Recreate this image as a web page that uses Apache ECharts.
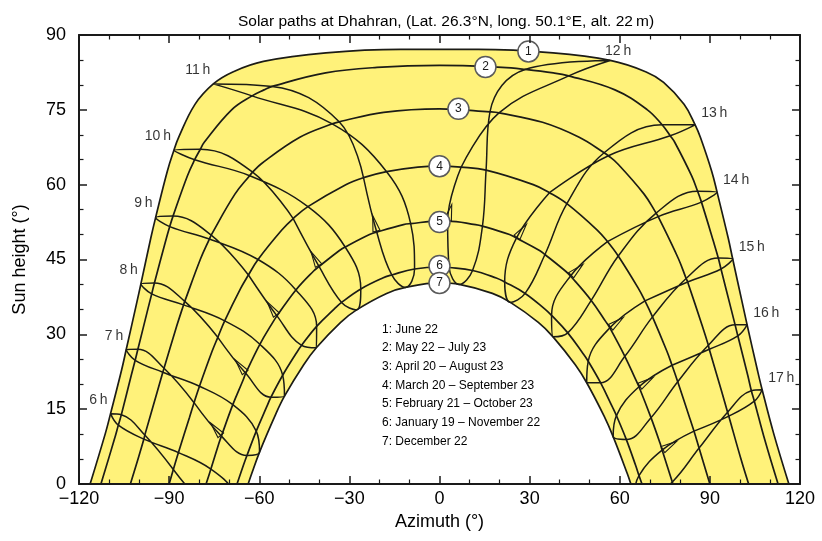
<!DOCTYPE html>
<html><head><meta charset="utf-8">
<script src="https://cdn.jsdelivr.net/npm/echarts@6/dist/echarts.min.js"></script>
<style>html,body{margin:0;padding:0;background:#fff}#c{width:822px;height:541px}</style>
</head><body><div id="c"></div>
<script>
// ---------- text ----------
const titleText = 'Solar paths at Dhahran, (Lat. 26.3°N, long. 50.1°E, alt. 22\u2009m)';
const xAxisName = 'Azimuth (°)';
const yAxisName = 'Sun height (°)';
const dateLabels = ['1: June 22','2: May 22 \u2013 July 23','3: April 20 \u2013 August 23','4: March 20 \u2013 September 23','5: February 21 \u2013 October 23','6: January 19 \u2013 November 22','7: December 22'];
const circleNumbers = ['1','2','3','4','5','6','7'];
const circlePositions = [[29.6,86.7],[15.3,83.6],[6.3,75.2],[0,63.7],[0,52.5],[0,43.7],[0,40.3]];
const hourNames = ['6\u2009h','7\u2009h','8\u2009h','9\u2009h','10\u2009h','11\u2009h','12\u2009h','13\u2009h','14\u2009h','15\u2009h','16\u2009h','17\u2009h'];

// ---------- date curves [azimuth, height] ----------
const curveJun22 = [[-116.3,0],[-111.2,10.2],[-109.5,14.1],[-105.8,22.9],[-104.3,26.9],[-100.9,36.0],[-99.4,40.1],[-96.1,49.3],[-94.5,53.4],[-90.6,62.7],[-88.4,66.9],[-86.9,69.4],[-81.4,76.1],[-75.3,80.2],[-68.8,82.6],[-58.6,84.7],[-37.8,86.4],[-12.9,87.1],[0,87.1],[12.9,87.1],[37.8,86.4],[56.8,84.9],[68.8,82.6],[74.6,80.5],[81.4,76.1],[85.1,72.0],[86.9,69.4],[90.6,62.7],[92.4,58.5],[96.1,49.3],[97.6,45.1],[100.9,36.0],[102.4,31.9],[105.8,22.9],[107.4,18.9],[111.2,10.2],[116.3,0]];
const curveMay22Jul23 = [[-112.7,0],[-108.3,8.8],[-106.9,11.8],[-105.9,13.9],[-102.6,21.8],[-101.3,24.8],[-100.4,27.0],[-97.1,35.0],[-95.8,38.1],[-94.9,40.3],[-91.3,48.4],[-89.8,51.6],[-88.7,53.7],[-83.9,61.8],[-81.5,65.0],[-79.6,67.1],[-78.3,68.5],[-69.2,75.0],[-62.4,77.8],[-58.4,79.0],[-55.7,79.7],[-37.9,82.4],[-20.8,83.5],[0,83.9],[20.8,83.5],[28.5,83.1],[37.9,82.4],[43.0,81.8],[58.4,79.0],[69.2,75.0],[74.1,72.0],[76.8,69.8],[78.3,68.5],[83.9,61.8],[85.9,58.7],[87.2,56.5],[91.3,48.4],[92.8,45.3],[93.7,43.1],[97.1,35.0],[98.4,31.9],[99.3,29.7],[102.6,21.8],[103.8,18.7],[104.8,16.6],[108.3,8.8],[112.7,0]];
const curveApr20Aug23 = [[-102.9,0],[-100.3,5.1],[-98.4,9.0],[-98.1,9.8],[-94.0,18.4],[-92.1,22.4],[-91.7,23.2],[-87.4,31.8],[-85.2,35.9],[-84.8,36.6],[-79.5,45.2],[-76.6,49.1],[-76.0,49.9],[-68.1,58.1],[-63.2,61.8],[-62.2,62.5],[-59.3,64.2],[-46.5,69.5],[-35.7,72.2],[-33.4,72.6],[-18.6,74.5],[0,75.2],[16.8,74.6],[19.8,74.4],[34.3,72.5],[46.5,69.5],[54.8,66.4],[56.2,65.8],[59.3,64.2],[68.1,58.1],[72.1,54.3],[72.8,53.6],[79.5,45.2],[82.1,41.2],[82.6,40.5],[87.4,31.8],[89.5,27.8],[89.8,27.0],[94.0,18.4],[95.9,14.4],[96.3,13.6],[100.3,5.1],[102.9,0]];
const curveMar20Sep23 = [[-90,0],[-88.6,2.9],[-86.9,6.3],[-83.2,13.4],[-81.7,16.3],[-79.9,19.6],[-75.7,26.6],[-73.8,29.4],[-71.5,32.7],[-66.1,39.3],[-63.6,41.9],[-60.4,45.0],[-52.5,50.9],[-48.7,53.2],[-43.8,55.6],[-31.2,60.0],[-25.3,61.4],[-17.6,62.6],[-7.2,63.5],[0,63.7],[7.2,63.5],[15.5,62.9],[31.2,60.0],[36.6,58.4],[42.4,56.2],[52.5,50.9],[55.9,48.6],[59.5,45.7],[66.1,39.3],[68.4,36.7],[70.9,33.5],[75.7,26.6],[77.4,23.8],[79.3,20.5],[83.2,13.4],[84.7,10.6],[86.4,7.2],[90,0]];
const curveFeb21Oct23 = [[-77.7,0],[-76.1,3.0],[-73.4,8.2],[-72.6,9.6],[-68.8,15.9],[-65.4,20.8],[-64.5,22.2],[-59.8,28.0],[-55.4,32.5],[-54.1,33.7],[-47.8,38.9],[-41.9,42.7],[-40.1,43.6],[-33.3,46.8],[-31.4,47.5],[-23.3,50.0],[-20.9,50.5],[-12.0,52.0],[-9.6,52.2],[0,52.7],[2.7,52.7],[12.0,52.0],[14.3,51.7],[23.3,50.0],[25.6,49.3],[33.3,46.8],[35.1,46.0],[41.9,42.7],[43.6,41.7],[50.5,36.8],[55.4,32.5],[56.7,31.3],[61.7,25.6],[65.4,20.8],[66.4,19.5],[70.4,13.3],[73.4,8.2],[74.1,6.8],[77.7,0]];
const curveJan19Nov22 = [[-67.4,0],[-65.3,3.7],[-64.1,5.7],[-61.0,10.6],[-57.5,15.5],[-56.1,17.4],[-52.2,21.8],[-47.7,26.2],[-45.9,27.8],[-40.9,31.6],[-35.0,35.1],[-32.6,36.4],[-26.2,39.1],[-18.9,41.3],[-15.9,41.9],[-8.3,43.1],[0,43.5],[3.2,43.4],[11.0,42.8],[18.9,41.3],[21.7,40.5],[28.5,38.2],[35.0,35.1],[37.3,33.8],[42.7,30.3],[47.7,26.2],[49.5,24.6],[53.6,20.3],[57.5,15.5],[58.9,13.7],[62.2,8.9],[65.3,3.7],[66.4,1.7],[67.4,0]];
const curveDec22 = [[-63.7,0],[-62.5,2.1],[-59.9,6.4],[-54.8,13.6],[-51.6,17.6],[-45.2,23.9],[-41.0,27.3],[-32.9,32.4],[-27.6,34.9],[-17.6,38.2],[-11.3,39.4],[0,40.3],[6.6,40.0],[17.6,38.2],[23.6,36.4],[32.9,32.4],[37.8,29.5],[45.2,23.9],[49.0,20.3],[54.8,13.6],[57.8,9.5],[62.5,2.1],[63.7,0]];

// ---------- hour lines (Mar, Apr, May, Jun, Jul, Aug, Sep, Oct, Nov, Dec, Jan, Feb, Mar) ----------
const loop06 = [[-88.6,2.9],[-98.1,9.8],[-105.9,13.9],[-109.5,14.1],[-106.9,11.8],[-98.4,9.0],[-86.9,6.3],[-76.1,3.0],[-68.2,-1.6],[-66.6,-5.6],[-70.8,-6.7],[-79.4,-3.4],[-88.6,2.9]];
const loop07 = [[-81.7,16.3],[-91.7,23.2],[-100.4,27.0],[-104.3,26.9],[-101.3,24.8],[-92.1,22.4],[-79.9,19.6],[-68.8,15.9],[-61.0,10.6],[-59.9,6.4],[-64.1,5.7],[-72.6,9.6],[-81.7,16.3]];
const loop08 = [[-73.8,29.4],[-84.8,36.6],[-94.9,40.3],[-99.4,40.1],[-95.8,38.1],[-85.2,35.9],[-71.5,32.7],[-59.8,28.0],[-52.2,21.8],[-51.6,17.6],[-56.1,17.4],[-64.5,22.2],[-73.8,29.4]];
const loop09 = [[-63.6,41.9],[-76.0,49.9],[-88.7,53.7],[-94.5,53.4],[-89.8,51.6],[-76.6,49.1],[-60.4,45.0],[-47.8,38.9],[-40.9,31.6],[-41.0,27.3],[-45.9,27.8],[-54.1,33.7],[-63.6,41.9]];
const loop10 = [[-48.7,53.2],[-62.2,62.5],[-79.6,67.1],[-88.4,66.9],[-81.5,65.0],[-63.2,61.8],[-43.8,55.6],[-31.4,47.5],[-26.2,39.1],[-27.6,34.9],[-32.6,36.4],[-40.1,43.6],[-48.7,53.2]];
const loop11 = [[-25.3,61.4],[-33.4,72.6],[-55.7,79.7],[-75.3,80.2],[-62.4,77.8],[-35.7,72.2],[-17.6,62.6],[-9.6,52.2],[-8.3,43.1],[-11.3,39.4],[-15.9,41.9],[-20.9,50.5],[-25.3,61.4]];
const loop12 = [[7.2,63.5],[19.8,74.4],[43.0,81.8],[56.8,84.9],[28.5,83.1],[16.8,74.6],[15.5,62.9],[14.3,51.7],[11.0,42.8],[6.6,40.0],[3.2,43.4],[2.7,52.7],[7.2,63.5]];
const loop13 = [[36.6,58.4],[56.2,65.8],[76.8,69.8],[85.1,72.0],[74.1,72.0],[54.8,66.4],[42.4,56.2],[35.1,46.0],[28.5,38.2],[23.6,36.4],[21.7,40.5],[25.6,49.3],[36.6,58.4]];
const loop14 = [[55.9,48.6],[72.8,53.6],[87.2,56.5],[92.4,58.5],[85.9,58.7],[72.1,54.3],[59.5,45.7],[50.5,36.8],[42.7,30.3],[37.8,29.5],[37.3,33.8],[43.6,41.7],[55.9,48.6]];
const loop15 = [[68.4,36.7],[82.6,40.5],[93.7,43.1],[97.6,45.1],[92.8,45.3],[82.1,41.2],[70.9,33.5],[61.7,25.6],[53.6,20.3],[49.0,20.3],[49.5,24.6],[56.7,31.3],[68.4,36.7]];
const loop16 = [[77.4,23.8],[89.8,27.0],[99.3,29.7],[102.4,31.9],[98.4,31.9],[89.5,27.8],[79.3,20.5],[70.4,13.3],[62.2,8.9],[57.8,9.5],[58.9,13.7],[66.4,19.5],[77.4,23.8]];
const loop17 = [[84.7,10.6],[96.3,13.6],[104.8,16.6],[107.4,18.9],[103.8,18.7],[95.9,14.4],[86.4,7.2],[77.5,0.4],[69.1,-3.4],[64.9,-2.3],[66.4,1.7],[74.1,6.8],[84.7,10.6]];

// ---------- build ----------
const FONT = '"Liberation Sans", Arial, Helvetica, sans-serif';
const LINE = '#1c1c16';
const innerCurves = [curveMay22Jul23, curveApr20Aug23, curveMar20Sep23, curveFeb21Oct23, curveJan19Nov22];
const hourLoops = [loop06, loop07, loop08, loop09, loop10, loop11, loop12, loop13, loop14, loop15, loop16, loop17];
const JUN = 3, FEB = 11, MAR = 12;

const fmt = v => v < 0 ? '\u2212' + Math.abs(v) : String(v);
function axis(extra) {
  return Object.assign({
    type: 'value',
    axisLine: {show: true, onZero: false, lineStyle: {color: '#1a1a1a', width: 2}},
    axisTick: {show: true, inside: true, length: 8, lineStyle: {color: '#1a1a1a', width: 1.5}},
    minorTick: {show: true, splitNumber: 3, length: 4.5, lineStyle: {color: '#1a1a1a', width: 1.2}},
    splitLine: {show: false}, minorSplitLine: {show: false},
    z: 10
  }, extra);
}

const series = [];
series.push({type: 'line', data: curveJun22, smooth: 0.4, symbol: 'none', z: 1, silent: true,
  lineStyle: {color: LINE, width: 1.7}, areaStyle: {color: '#fff27a', opacity: 1, origin: 'start'}});
series.push({type: 'line', data: curveDec22, smooth: 0.4, symbol: 'none', z: 1, silent: true,
  lineStyle: {color: LINE, width: 1.7}, areaStyle: {color: '#ffffff', opacity: 1, origin: 'start'}});
innerCurves.forEach(c => series.push({type: 'line', data: c, smooth: 0.4, symbol: 'none', z: 2, silent: true,
  lineStyle: {color: LINE, width: 1.7}}));
hourLoops.forEach(c => series.push({type: 'line', data: c, smooth: 0.4, symbol: 'none', z: 2, silent: true, clip: true,
  lineStyle: {color: LINE, width: 1.5}}));

// direction arrows (Feb -> Mar on each hour line)
const arrowData = hourLoops.filter(l => l[FEB][1] > 0).map(l => [l[FEB][0], l[FEB][1], l[MAR][0], l[MAR][1]]);
series.push({type: 'custom', data: arrowData, z: 3, silent: true, encode: {x: [0, 2], y: [1, 3]},
  renderItem: function (params, api) {
    const p0 = api.coord([api.value(0), api.value(1)]);
    const p1 = api.coord([api.value(2), api.value(3)]);
    const dx = p1[0] - p0[0], dy = p1[1] - p0[1], L = Math.hypot(dx, dy);
    const ux = dx / L, uy = dy / L, nx = -uy, ny = ux;
    const b = [p0[0] + ux * 1, p0[1] + uy * 1];
    const tip = [b[0] + ux * 16, b[1] + uy * 16];
    const w = 3.6;
    return {type: 'polygon', shape: {points: [tip, [b[0] + nx * w, b[1] + ny * w], [b[0] - nx * w, b[1] - ny * w]]},
      style: {fill: 'rgba(0,0,0,0)', stroke: '#1c1c16', lineWidth: 1.1}};
  }});

// numbered circles
series.push({type: 'scatter', z: 6, silent: true, symbol: 'circle', symbolSize: 21,
  itemStyle: {color: '#ffffff', opacity: 1, borderColor: '#5a5a5a', borderWidth: 1.5},
  label: {show: true, position: 'inside', formatter: '{b}', fontFamily: FONT, fontSize: 12, color: '#1a1a1a'},
  data: circlePositions.map((p, i) => ({value: p, name: circleNumbers[i]}))});

// hour labels at the June end of each hour line
series.push({type: 'scatter', z: 6, silent: true, symbolSize: 0,
  label: {show: true, formatter: '{b}', fontFamily: FONT, fontSize: 14, color: '#000'},
  data: hourLoops.map((l, i) => {
    const h = 6 + i;
    let label;
    if (h < 12) label = {position: 'left', distance: 3, offset: [0, -14]};
    else if (h === 12) label = {position: 'top', distance: 4, offset: [8, 2]};
    else label = {position: 'right', distance: 6, offset: [0, -12]};
    return {value: l[JUN], name: hourNames[i], label: label};
  })});

const option = {
  animation: false,
  backgroundColor: '#ffffff',
  textStyle: {fontFamily: FONT},
  title: {text: titleText, left: 441, textAlign: 'center', top: 9,
    textStyle: {fontFamily: FONT, fontSize: 15.5, fontWeight: 'normal', color: '#000'}},
  grid: {left: 79, right: 22, top: 35, bottom: 57},
  xAxis: [
    axis({min: -120, max: 120, interval: 30, position: 'bottom',
      axisLabel: {fontSize: 18, margin: 6, color: '#000', formatter: fmt},
      name: xAxisName, nameLocation: 'middle', nameGap: 29,
      nameTextStyle: {fontSize: 18, color: '#000'}}),
    axis({min: -120, max: 120, interval: 30, position: 'top', axisLabel: {show: false}})
  ],
  yAxis: [
    axis({min: 0, max: 90, interval: 15, position: 'left',
      axisLabel: {fontSize: 18, margin: 13, color: '#000'},
      name: yAxisName, nameLocation: 'middle', nameGap: 50,
      nameTextStyle: {fontSize: 18, color: '#000'}}),
    axis({min: 0, max: 90, interval: 15, position: 'right', axisLabel: {show: false}})
  ],
  graphic: [{type: 'text', left: 382, top: 320, z: 20,
    style: {text: dateLabels.join('\n'), fontFamily: FONT, fontSize: 12, lineHeight: 18.7, fill: '#000'}}],
  series: series
};

const chart = echarts.init(document.getElementById('c'));
chart.setOption(option);
</script></body></html>
